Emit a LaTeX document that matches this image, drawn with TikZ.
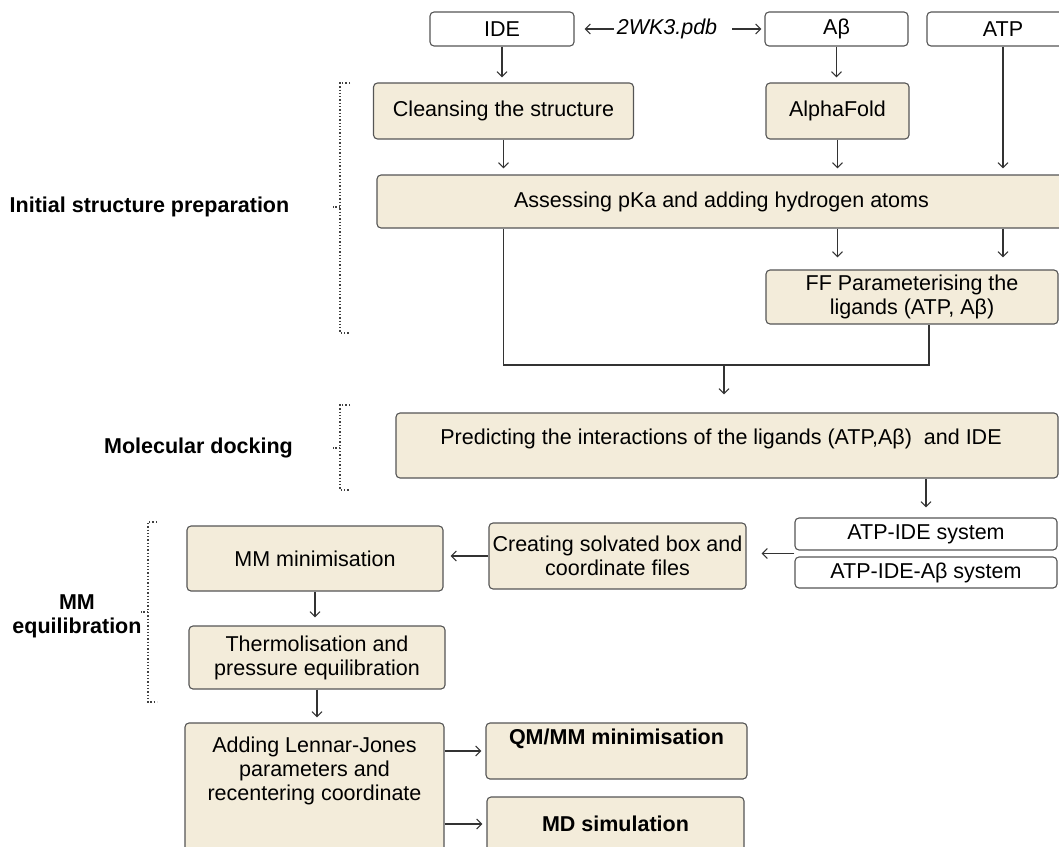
\documentclass[tikz,border=0pt]{standalone}
\usepackage{fontspec}
\setmainfont{Liberation Sans}
\usepackage{tikz}
\usetikzlibrary{positioning,calc,arrows.meta}
\definecolor{boxfill}{RGB}{243,236,218}
\definecolor{boxline}{RGB}{85,85,85}

\begin{document}
\begin{tikzpicture}[x=1pt,y=-1pt,>={Straight Barb[length=5pt,width=10pt]},
    every node/.style={font=\fontsize{21.5}{24}\selectfont,inner sep=3pt,align=center},
    box/.style={draw=boxline,line width=1.1pt,rounded corners=4pt,fill=boxfill},
    wbox/.style={box,fill=white},
    head/.style={font=\fontsize{21.5}{24}\selectfont\bfseries},
    link/.style={line width=1.1pt,draw=black!80},
    arr/.style={link,->,shorten >=6pt},
    brk/.style={line width=1.3pt,draw=black!75,dash pattern=on 1.3pt off 2pt}]
  \useasboundingbox (0,0) rectangle (1059,846);
  \clip (0,0) rectangle (1059,846);

  \node[wbox,minimum width=144pt,minimum height=34pt] (ide) at (502,29) {IDE};
  \node[font=\fontsize{21.5}{24}\selectfont\itshape] (pdb) at (667,29) {2WK3.pdb};
  \node[wbox,minimum width=143pt,minimum height=34pt] (ab) at (836.5,29) {Aβ};
  \node[wbox,minimum width=152pt,minimum height=34pt] (atp) at (1003,29) {ATP};

  \node[box,minimum width=260pt,minimum height=56pt] (clean) at (503.5,111) {Cleansing the structure};
  \node[box,minimum width=143pt,minimum height=56pt] (fold) at (837.5,111) {AlphaFold};
  \node[box,minimum width=689pt,minimum height=53pt] (pka) at (721.5,201.5) {Assessing pKa and adding hydrogen atoms};
  \node[box,minimum width=292pt,minimum height=54pt] (ff) at (912,297) {FF Parameterising the\\ligands (ATP, Aβ)};

  \node[box,minimum width=662pt,minimum height=65pt] (dock) at (727,445.5) {};
  \node[below=13pt of dock.north,xshift=-6pt] (docktxt) {Predicting the interactions of the ligands (ATP,Aβ)~ and IDE};

  \node[wbox,minimum width=262pt,minimum height=32pt] (sys1) at (926,534) {ATP-IDE system};
  \node[wbox,minimum width=262pt,minimum height=31pt] (sys2) at (926,572.5) {ATP-IDE-Aβ system};
  \node[box,minimum width=257pt,minimum height=66pt] (solv) at (617.5,556) {Creating solvated box and\\coordinate files};
  \node[box,minimum width=256pt,minimum height=65pt] (mmmin) at (315,558.5) {MM minimisation};
  \node[box,minimum width=256pt,minimum height=63pt] (therm) at (317,657.5) {Thermolisation and\\pressure equilibration};

  \node[box,minimum width=259pt,minimum height=157pt] (lj) at (314.5,801.5) {};
  \node[below=11pt of lj.north] (ljtxt) {Adding Lennar-Jones\\parameters and\\recentering coordinate};
  \node[box,minimum width=261pt,minimum height=56pt] (qmmm) at (616.5,751) {};
  \node[head,below=3pt of qmmm.north] (qmtxt) {QM/MM minimisation};
  \node[box,head,minimum width=257pt,minimum height=54pt] (md) at (615.5,824) {MD simulation};

  \node[head] (lbinit) at (149.5,207) {Initial structure preparation};
  \node[head] (lbdock) at (198.5,448) {Molecular docking};
  \node[head] (lbmm) at (77,616) {MM\\equilibration};

  \draw[brk] (350,83) -- (340,83) -- (340,333) -- (350,333) (340,207) -- (333,207);
  \draw[brk] (350,405) -- (340,405) -- (340,490) -- (350,490) (340,448) -- (333,448);
  \draw[brk] (157,522) -- (148,522) -- (148,702) -- (157,702) (148,612) -- (141,612);

  \draw[arr,shorten >=10pt] (pdb) -- (ide);
  \draw[arr,shorten <=12pt,shorten >=3pt] (pdb) -- (ab);
  \draw[arr,shorten >=5pt] (ide) -- (ide |- clean.north);
  \draw[arr,shorten >=5pt] (ab) -- (ab |- fold.north);
  \draw[arr] (clean) -- (clean |- pka.north);
  \draw[arr] (fold) -- (fold |- pka.north);
  \draw[arr] (atp) -- (atp |- pka.north);
  \draw[arr,shorten >=12pt] (pka.south -| fold) -- (ff.north -| fold);
  \draw[arr,shorten >=12pt] (pka.south -| atp) -- (ff.north -| atp);

  \coordinate (merge) at (724,365);
  \draw[link] (pka.south -| clean) |- (merge) -| ([xshift=17pt]ff.south);
  \draw[arr,shorten >=18pt] (merge) -- (merge |- dock.north);
  \draw[arr,shorten >=10pt] (dock.south -| sys1) -- (sys1.north);

  \coordinate (sysin) at ($(sys1.south west)!.5!(sys2.north west)$);
  \draw[arr,shorten >=15pt] (sysin) -- (sysin -| solv.east);
  \draw[arr,shorten >=7pt] (solv.west) -- (solv.west -| mmmin.east);
  \draw[arr,shorten >=8pt] (mmmin) -- (mmmin |- therm.north);
  \draw[arr,shorten >=5pt] (therm) -- (therm |- lj.north);
  \draw[arr,shorten >=4pt] (lj.east |- qmmm) -- (qmmm);
  \draw[arr,shorten >=4pt] (lj.east |- md) -- (md);
\end{tikzpicture}
\end{document}
